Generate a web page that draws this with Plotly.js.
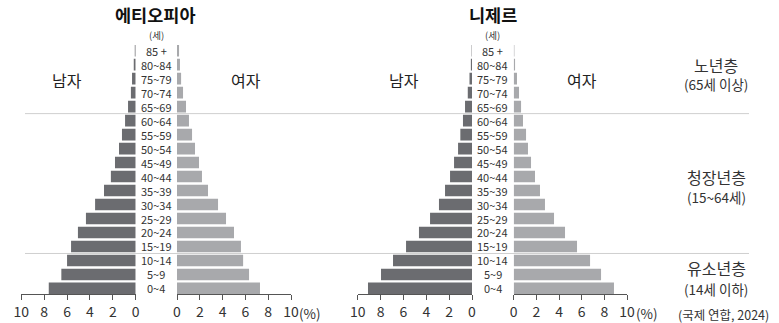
<!DOCTYPE html>
<html>
<head>
<meta charset="utf-8">
<script src="https://cdn.plot.ly/plotly-3.0.1.min.js"></script>
<style>
html,body{margin:0;padding:0;background:#fff;}
#chart{width:779px;height:323px;}
</style>
</head>
<body>
<div id="chart"></div>
<script>
// Age groups (bottom to top)
const ages = ["0~4","5~9","10~14","15~19","20~24","25~29","30~34","35~39","40~44","45~49","50~54","55~59","60~64","65~69","70~74","75~79","80~84","85 +"];
// Ethiopia (%)
const ethiopiaMale   = [7.6,6.5,6.0,5.65,5.05,4.35,3.55,2.77,2.17,1.81,1.46,1.2,0.93,0.67,0.42,0.32,0.17,0.08];
const ethiopiaFemale = [7.28,6.32,5.8,5.61,5.0,4.3,3.6,2.72,2.19,1.93,1.58,1.32,1.05,0.79,0.53,0.36,0.26,0.18];
// Niger (%)
const nigerMale   = [9.1,7.96,6.91,5.77,4.64,3.67,2.89,2.36,1.92,1.57,1.22,1.02,0.79,0.61,0.37,0.22,0.1,0.03];
const nigerFemale = [8.85,7.71,6.74,5.59,4.53,3.56,2.76,2.32,1.88,1.53,1.26,1.09,0.82,0.65,0.47,0.29,0.12,0.06];
const countries = ["에티오피아","니제르"];
const xTicks = [0,2,4,6,8,10];

const W = 779, H = 323;
const font = '"Noto Sans CJK KR", "Noto Sans", sans-serif';
const maleColor = '#6b6c70', femaleColor = '#a8a9ac';

function bar(vals, color, xa){
  return {type:'bar', orientation:'h', y:ages, x:vals, xaxis:xa, yaxis:'y',
          marker:{color:color, line:{width:0}}, hoverinfo:'x+y', showlegend:false};
}
const data = [
  bar(ethiopiaMale, maleColor, 'x'),
  bar(ethiopiaFemale, femaleColor, 'x2'),
  bar(nigerMale, maleColor, 'x3'),
  bar(nigerFemale, femaleColor, 'x4')
];

function xax(l, r, reversed){
  return {domain:[l/W, r/W], range: reversed ? [10,0] : [0,10], anchor:'y',
    showline:true, linecolor:'#555', linewidth:1, ticks:'outside', ticklen:5, tickcolor:'#555',
    tickvals:xTicks, ticktext:xTicks.map(String), showgrid:false, zeroline:false, fixedrange:true,
    tickfont:{family:font, size:14, color:'#333'}};
}

function ann(text, x, y, size, color, yref){
  return {text:text, x:x/W, y: yref==='y' ? y : 1-y/H, xref:'paper', yref: yref||'paper',
    xanchor:'center', yanchor:'middle', borderpad:0, showarrow:false, font:{family:font, size:size, color:color||'#333'}};
}

const centers = [156.4, 492.9];
const annotations = [];
annotations.push(ann('<b>'+countries[0]+'</b>', 155, 14, 17.5, '#111'));
annotations.push(ann('<b>'+countries[1]+'</b>', 493, 14, 17.5, '#111'));
centers.forEach(cx=>{
  ages.forEach(a=>annotations.push(ann(a, cx, a, 11, '#333', 'y')));
  annotations.push(ann('(세)', cx, 35, 9.5, '#333'));
});
[[67,245.6],[404,581.7]].forEach(p=>{
  annotations.push(ann('남자', p[0], 80, 16, '#222'));
  annotations.push(ann('여자', p[1], 80, 16, '#222'));
});
[310, 647].forEach(x=>annotations.push(ann('(%)', x, 313, 13.5, '#333')));
const sideLabels = [
  ['노년층',65,16],['(65세 이상)',84,13.5],
  ['청장년층',177,16],['(15~64세)',197,13.5],
  ['유소년층',268,16],['(14세 이하)',289,13.5]
];
sideLabels.forEach(s=>annotations.push(ann(s[0], 716, s[1], s[2], '#333')));
annotations.push(ann('(국제 연합, 2024)', 723, 314, 12.5, '#333'));

const shapes = [12.5, 2.5].map(v=>({type:'line', xref:'paper', yref:'y', x0:25/W, x1:749/W, y0:v, y1:v, layer:'below', line:{color:'#cfcfcf', width:1}}));

const layout = {
  width:W, height:H, margin:{l:0,r:0,t:0,b:0}, paper_bgcolor:'#fff', plot_bgcolor:'rgba(0,0,0,0)',
  bargap:0.17, showlegend:false,
  xaxis: xax(21.3,135.7,true),
  xaxis2: xax(177,291,false),
  xaxis3: xax(357.7,472,true),
  xaxis4: xax(513.7,627,false),
  yaxis: {domain:[1-294.3/H, 1-43.7/H], type:'category', categoryorder:'array', categoryarray:ages,
          range:[-0.42,17.5], visible:false, fixedrange:true},
  annotations: annotations, shapes: shapes
};
Plotly.newPlot('chart', data, layout, {displayModeBar:false, staticPlot:true});
</script>
</body>
</html>
